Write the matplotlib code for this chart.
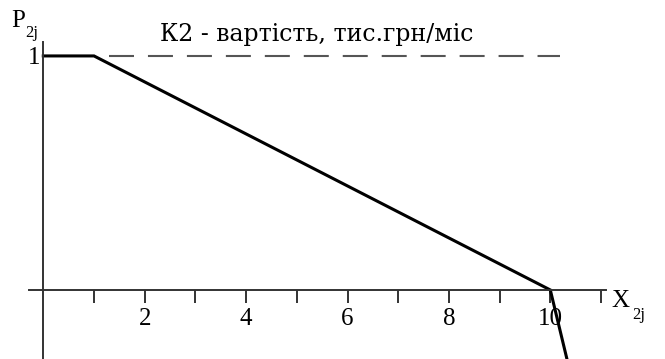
import matplotlib
matplotlib.use("Agg")
import matplotlib.pyplot as plt

# membership function K2 (cost, thousand UAH / month)
x_vals = [0, 1, 10, 10.5]
p_vals = [1, 1, 0, -0.45]
level_x = [1.3, 10.2]
level_y = [1, 1]
tick_pos = [1, 2, 3, 4, 5, 6, 7, 8, 9, 10, 11]
tick_lab = ['', '2', '', '4', '', '6', '', '8', '', '10', '']
title = 'К2 - вартість, тис.грн/міс'

serif = 'Liberation Serif'
axcol = '#333333'
W, H = 665.0, 359.0

fig = plt.figure(figsize=(6.65, 3.59), dpi=100, facecolor='white')
ax = fig.add_axes([0, 0, 1, 1])
ax.set_xlim(-0.854, 12.262)
ax.set_ylim(-0.295, 1.239)

for s in ['top', 'right']:
    ax.spines[s].set_visible(False)
ax.spines['bottom'].set_position(('data', 0))
ax.spines['left'].set_position(('data', 0))
ax.spines['bottom'].set_bounds(-0.28, 11.1)
ax.spines['left'].set_bounds(-0.3, 1.06)
for s in ['bottom', 'left']:
    ax.spines[s].set_linewidth(1.4)
    ax.spines[s].set_color(axcol)

ax.set_xticks(tick_pos)
ax.set_xticklabels(tick_lab, fontfamily=serif, fontsize=18)
ax.tick_params(axis='x', direction='out', length=9, width=1.4, color=axcol, pad=4)
ax.set_yticks([1])
ax.set_yticklabels(['1'], fontfamily=serif, fontsize=18)
ax.tick_params(axis='y', length=0, pad=2)

ax.plot(x_vals, p_vals, color='black', lw=2.2, solid_joinstyle='miter')
ax.plot(level_x, level_y, color='#555555', lw=1.5, dashes=(12, 6.7))


def px_text(x, y, s, size, **kw):
    # place text by pixel position measured from the top-left corner
    fig.text(x / W, 1 - y / H, s, fontsize=size, **kw)


px_text(160, 35, title, 17, fontfamily='DejaVu Serif', ha='left', va='center')

# axis names with subscripts
px_text(11, 10, 'P', 18, fontfamily=serif, ha='left', va='top')
px_text(25, 25, '2j', 12, fontfamily=serif, ha='left', va='top')
px_text(611, 290, 'X', 18, fontfamily=serif, ha='left', va='top')
px_text(632, 307, '2j', 12, fontfamily=serif, ha='left', va='top')

fig.savefig('out.png', dpi=100, facecolor='white')
